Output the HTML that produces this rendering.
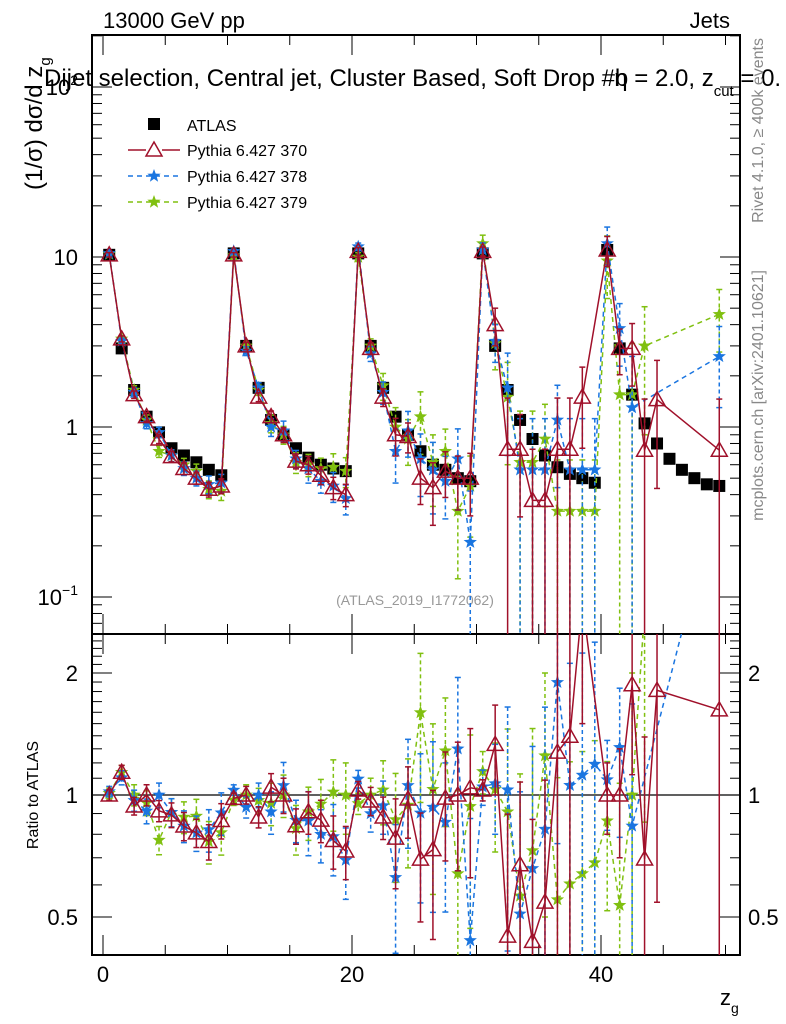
<!DOCTYPE html>
<html><head><meta charset="utf-8"><style>
html,body{margin:0;background:#fff;overflow:hidden;width:786px;height:1024px;}
svg{display:block;font-family:"Liberation Sans",sans-serif;}
</style></head><body>
<svg id="c" width="786" height="1024"></svg>
<script>
const bins=[0.5,1.5,2.5,3.5,4.5,5.5,6.5,7.5,8.5,9.5,10.5,11.5,12.5,13.5,14.5,15.5,16.5,17.5,18.5,19.5,20.5,21.5,22.5,23.5,24.5,25.5,26.5,27.5,28.5,29.5,30.5,31.5,32.5,33.5,34.5,35.5,36.5,37.5,38.5,39.5,40.5,41.5,42.5,43.5,44.5,45.5,46.5,47.5,48.5,49.5];
const atlas=[10.3,2.9,1.65,1.15,0.93,0.75,0.68,0.62,0.56,0.52,10.5,3.0,1.7,1.1,0.9,0.75,0.66,0.6,0.57,0.55,10.5,3.0,1.7,1.15,0.9,0.72,0.6,0.56,0.5,0.48,10.5,3.0,1.65,1.1,0.85,0.68,0.58,0.53,0.5,0.47,11,2.9,1.55,1.05,0.8,0.65,0.56,0.5,0.46,0.45];
const p370=[10.3,3.3,1.55,1.15,0.85,0.67,0.57,0.5,0.43,0.45,10.3,3.0,1.5,1.15,0.9,0.63,0.6,0.52,0.44,0.4,10.8,2.9,1.5,0.9,0.88,0.5,0.44,0.55,0.5,0.5,10.8,4.0,0.74,0.74,0.37,0.37,0.74,0.74,1.5,null,11,2.9,2.9,0.73,1.45,null,null,null,null,0.73];
const p378=[10.5,3.2,1.6,1.05,0.93,0.68,0.57,0.5,0.46,0.47,10.8,2.8,1.7,1.0,0.95,0.65,0.57,0.48,0.45,0.38,11.5,2.7,1.6,0.72,0.95,0.65,0.56,0.48,0.65,0.21,11,3.2,1.7,0.56,0.56,0.56,1.1,0.56,0.56,0.56,12,3.8,1.3,null,null,null,null,null,null,2.6];
const p379=[10.4,3.3,1.65,1.1,0.72,0.68,0.6,0.55,0.43,0.42,10.2,3.0,1.65,1.05,0.9,0.62,0.6,0.57,0.58,0.55,10,3.0,1.75,1.0,0.85,1.15,0.62,0.72,0.32,0.45,12,3.1,1.5,0.62,0.62,0.85,0.32,0.32,0.32,0.32,9.5,1.55,1.55,3.0,null,null,null,null,null,4.6];
const e370=[.03,.04,.05,.06,.06,.07,.08,.08,.1,.1,.03,.05,.06,.08,.1,.1,.12,.12,.15,.15,.05,.08,.12,.25,.2,.3,.4,.3,.35,.4,.06,.25,1,.6,1,1,1,1,.5,0,.2,.3,.4,1,.7,0,0,0,0,1];
const e378=[.03,.04,.06,.07,.07,.08,.09,.1,.12,.12,.03,.06,.07,.12,.14,.12,.18,.15,.2,.2,.05,.1,.15,.35,.3,.4,.45,.4,.5,1,.1,.25,.6,1,1,1,.6,1,1,1,.25,.4,1,0,0,0,0,0,0,.5];
const e379=[.03,.04,.06,.07,.08,.08,.09,.1,.12,.12,.03,.06,.07,.12,.12,.14,.15,.15,.2,.2,.06,.1,.18,.3,.3,.4,.45,.35,.6,.5,.12,.3,.6,1,1,.6,1,1,1,1,.4,1,1,.7,0,0,0,0,0,.4];
const xTicksMajor=[0,20,40];
const yMainLabels=[[0.1,'10'],[1,'1'],[10,'10'],[100,'10']];
const ratioTicks=[[0.5,'0.5'],[1,'1'],[2,'2']];

const NS='http://www.w3.org/2000/svg';
const svg=document.getElementById('c');
function el(t,a,p){const e=document.createElementNS(NS,t);for(const k in a)e.setAttribute(k,a[k]);(p||svg).appendChild(e);return e;}
const L=92,R=740,T=35,M=634,B=955;
const X=v=>103+v*12.45;
const Y=v=>427-170*Math.log10(v);
const YR=v=>795-122*Math.log2(v);
const clipM=el('clipPath',{id:'cm'});el('rect',{x:L,y:T,width:R-L,height:M-T},clipM);
const clipR=el('clipPath',{id:'cr'});el('rect',{x:L,y:M,width:R-L,height:B-M},clipR);

el('rect',{x:L,y:T,width:R-L,height:M-T,fill:'none',stroke:'#000','stroke-width':2,});
el('rect',{x:L,y:M,width:R-L,height:B-M,fill:'none',stroke:'#000','stroke-width':2,});
el('line',{x1:L,x2:R,y1:YR(1),y2:YR(1),stroke:'#000','stroke-width':1.3,});

for(let v=0;v<=50;v+=5){const maj=v%20==0;const len=maj?20:10;
 for(const [a,b] of [[T,1],[M,-1],[M,1],[B,-1]]){el('line',{x1:X(v),x2:X(v),y1:a,y2:a+b*len,stroke:'#000'});}
}
xTicksMajor.forEach(v=>{const t=el('text',{x:X(v),y:982,'font-size':22,'text-anchor':'middle'});t.textContent=v;

});
for(let d=-2;d<=2;d++)for(let m=1;m<10;m++){const v=m*Math.pow(10,d);const y=Y(v);if(y<T||y>M)continue;const len=m==1?20:10;
 el('line',{x1:L,x2:L+len,y1:y,y2:y,stroke:'#000'});el('line',{x1:R,x2:R-len,y1:y,y2:y,stroke:'#000'});}
yMainLabels.forEach(([v,s])=>{const t=el('text',{x:78,y:Y(v)+8,'font-size':22,'text-anchor':'end'});t.textContent=s;
 
 
 if(v==0.1||v==100){const sp=el('tspan',{dy:-10,'font-size':14});sp.textContent=v==100?'2':'−1';t.appendChild(sp);}});
for(let v=0.4;v<=2.5;v+=0.1){const y=YR(v);if(y<M||y>B)continue;const maj=[0.5,1,2].some(q=>Math.abs(q-v)<1e-6);const len=maj?20:10;
 el('line',{x1:L,x2:L+len,y1:y,y2:y,stroke:'#000'});el('line',{x1:R,x2:R-len,y1:y,y2:y,stroke:'#000'});}
ratioTicks.forEach(([v,s])=>{const t=el('text',{x:78,y:YR(v)+8,'font-size':22,'text-anchor':'end'});t.textContent=s;
 
 
 const t2=el('text',{x:748,y:YR(v)+8,'font-size':22});t2.textContent=s;
 
 });

function txt(x,y,s,a){const t=el('text',Object.assign({x:x,y:y},a));t.innerHTML=s;return t;}
txt(103,28,'13000 GeV pp',{'font-size':22,});
txt(730,28,'Jets',{'font-size':22,'text-anchor':'end',});
txt(44,86,'Dijet selection, Central jet, Cluster Based, Soft Drop #b<tspan dx="-14">η</tspan> = 2.0, z<tspan dy="10" font-size="15">cut</tspan><tspan dy="-10"> = 0.</tspan>',{'font-size':24,});
txt(0,0,'(1/σ) dσ/d z<tspan dy="8" font-size="15">g</tspan>',{'font-size':24,'text-anchor':'start',transform:'translate(42,190) rotate(-90)',});
txt(0,0,'Ratio to ATLAS',{'font-size':16,'text-anchor':'middle',transform:'translate(38,795) rotate(-90)',});
txt(720,1005,'z<tspan dy="8" font-size="14">g</tspan>',{'font-size':22,});
txt(0,0,'Rivet 4.1.0, ≥ 400k events',{'font-size':16,fill:'#888','text-anchor':'end',transform:'translate(763,38) rotate(-90)',});
txt(0,0,'mcplots.cern.ch [arXiv:2401.10621]',{'font-size':16,fill:'#888','text-anchor':'end',transform:'translate(763,270) rotate(-90)',});
txt(415,605,'(ATLAS_2019_I1772062)',{'font-size':14,fill:'#999','text-anchor':'middle',});

function star(g,x,y,c,r){let p='';for(let i=0;i<10;i++){const rr=i%2?r*0.42:r;const a=-Math.PI/2+i*Math.PI/5;p+=(i?'L':'M')+(x+rr*Math.cos(a)).toFixed(1)+','+(y+rr*Math.sin(a)).toFixed(1);}return el('path',{d:p+'Z',fill:c},g);}
function tri(g,x,y,c){return el('path',{d:`M${x},${y-8}L${x+8},${y+6}L${x-8},${y+6}Z`,fill:'none',stroke:c,'stroke-width':1.5},g);}
const series=[
 {vals:p370,err:e370,c:'#a0102a',dash:null,m:'tri',name:'pythia-370'},
 {vals:p378,err:e378,c:'#1a75e0',dash:'5,4',m:'star',name:'pythia-378'},
 {vals:p379,err:e379,c:'#80c010',dash:'5,4',m:'star',name:'pythia-379'}];

const ga=el('g',{'clip-path':'url(#cm)'});


bins.forEach((b,i)=>{el('rect',{x:X(b)-6,y:Y(atlas[i])-6,width:12,height:12,fill:'#000'},ga);});

series.slice().reverse().forEach(s=>{
 for(const panel of ['main','ratio']){
  const g=el('g',{'clip-path':panel=='main'?'url(#cm)':'url(#cr)'});
  
  
  const yf=panel=='main'?(i,v)=>Y(v):(i,v)=>YR(v/atlas[i]);
  let d='';
  bins.forEach((b,i)=>{const v=s.vals[i];if(v==null)return;d+=(d?'L':'M')+X(b).toFixed(1)+','+yf(i,v).toFixed(1);});
  const a={d:d,fill:'none',stroke:s.c,'stroke-width':1.5};if(s.dash)a['stroke-dasharray']=s.dash;
  el('path',a,g);
  bins.forEach((b,i)=>{const v=s.vals[i];if(v==null)return;const e=s.err[i];
   const lo=Math.max(v*(1-e),1e-4),hi=v*(1+e);
   const y1=yf(i,hi),y2=yf(i,lo),x=X(b);
   const la={x1:x,x2:x,y1:y1,y2:y2,stroke:s.c,'stroke-width':1.5};if(s.dash)la['stroke-dasharray']='4,3';
   el('line',la,g);
   el('line',{x1:x-3,x2:x+3,y1:y1,y2:y1,stroke:s.c,'stroke-width':1.5},g);
   if(e<1)el('line',{x1:x-3,x2:x+3,y1:y2,y2:y2,stroke:s.c,'stroke-width':1.5},g);
   const y=yf(i,v);
   if(s.m=='tri')tri(g,x,y,s.c);else star(g,x,y,s.c,7);
  });
 }
});

const lg=el('g',{});


el('rect',{x:148,y:118,width:12,height:12,fill:'#000'},lg);
txt(187,131,'ATLAS',{'font-size':16});
const ly=[150,176,202];
series.forEach((s,k)=>{const y=ly[k];const a={x1:128,x2:180,y1:y,y2:y,stroke:s.c,'stroke-width':1.5};if(s.dash)a['stroke-dasharray']=s.dash;el('line',a,lg);
 if(s.m=='tri'){el('rect',{x:146,y:y-9,width:16,height:16,fill:'#fff'},lg);tri(lg,154,y,s.c);}else star(lg,154,y,s.c,7);
 txt(187,y+6,['Pythia 6.427 370','Pythia 6.427 378','Pythia 6.427 379'][k],{'font-size':16});});
</script>
</body></html>
